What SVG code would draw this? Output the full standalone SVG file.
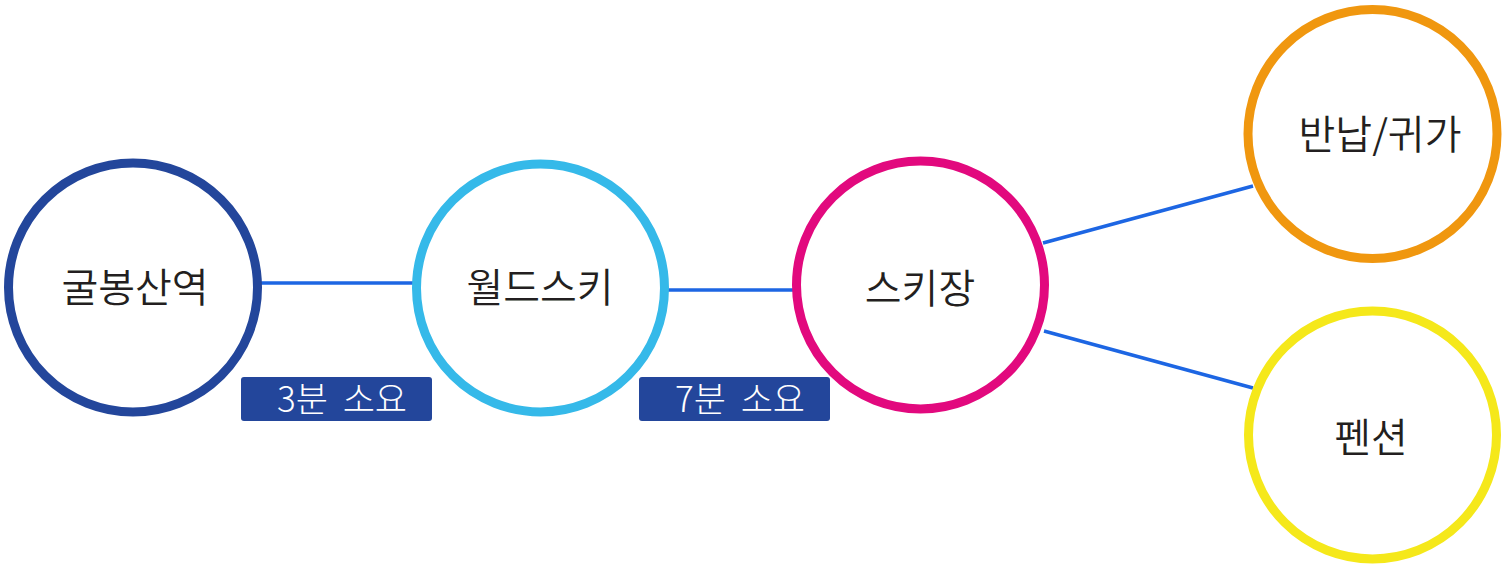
<svg xmlns="http://www.w3.org/2000/svg" width="1508" height="570" viewBox="0 0 1508 570">
<style>
.node{fill:#fff;stroke-width:9}
.lbl{font-family:"Noto Sans CJK KR","Noto Sans",sans-serif;font-size:40px;font-weight:350;fill:#231f20;text-anchor:middle}
.conn{stroke:#1d66e3;stroke-width:3.5;fill:none}
.tag{fill:#23469b}
.tagt{font-family:"Noto Sans CJK KR","Noto Sans",sans-serif;font-size:35px;font-weight:300;fill:#fff;text-anchor:middle;word-spacing:7px}
</style>
<rect width="1508" height="570" fill="#fff"/>
<g id="connectors">
<line class="conn" x1="259" y1="283" x2="413" y2="283"/>
<line class="conn" x1="667" y1="290" x2="793" y2="290"/>
<line class="conn" x1="1043" y1="243" x2="1253" y2="186"/>
<line class="conn" x1="1044" y1="331" x2="1253" y2="388"/>
</g>
<g id="node-gulbongsan">
<circle class="node" cx="133" cy="287.5" r="124.5" stroke="#23469b"/>
<text class="lbl" x="135" y="302">굴봉산역</text>
</g>
<g id="node-worldski">
<circle class="node" cx="540.5" cy="288" r="124" stroke="#35b9e9"/>
<text class="lbl" x="540" y="302">월드스키</text>
</g>
<g id="node-skijang">
<circle class="node" cx="920.5" cy="285" r="124" stroke="#e2097e"/>
<text class="lbl" x="920" y="303">스키장</text>
</g>
<g id="node-return">
<circle class="node" cx="1372.5" cy="134" r="124.5" stroke="#f0970f"/>
<text class="lbl" x="1380" y="149">반납/귀가</text>
</g>
<g id="node-pension">
<circle class="node" cx="1372.5" cy="435" r="124" stroke="#f5e81a"/>
<text class="lbl" x="1371" y="452">펜션</text>
</g>
<g id="tag-3min">
<rect class="tag" x="241" y="377" width="191" height="44" rx="3"/>
<text class="tagt" x="342" y="412">3분 소요</text>
</g>
<g id="tag-7min">
<rect class="tag" x="639" y="377" width="191" height="44" rx="3"/>
<text class="tagt" x="740" y="412">7분 소요</text>
</g>
</svg>
